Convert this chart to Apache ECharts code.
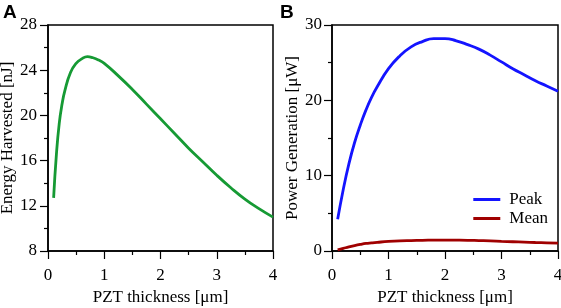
<!DOCTYPE html>
<html><head><meta charset="utf-8">
<script src="https://cdn.jsdelivr.net/npm/echarts@6/dist/echarts.min.js"></script>
<style>html,body{margin:0;padding:0;background:#fff}#c{width:561px;height:308px}</style>
</head><body><div id="c"></div>
<script>
// Panel A: Energy harvested vs PZT thickness
const thicknessA = [0.1,0.15,0.2,0.25,0.3,0.4,0.5,0.6,0.7,0.8,0.9,1.0,1.25,1.5,1.75,2.0,2.25,2.5,2.75,3.0,3.25,3.5,3.75,4.0];
const energyA    = [12.7,16.6,19.3,21.0,22.2,23.8,24.6,25.0,25.2,25.1,24.9,24.6,23.5,22.3,21.0,19.7,18.4,17.1,15.9,14.7,13.6,12.6,11.75,11.0];
// Panel B: Power generation vs PZT thickness
const thicknessB = [0.1,0.2,0.3,0.4,0.5,0.6,0.7,0.8,1.0,1.2,1.4,1.6,1.8,2.0,2.2,2.4,2.6,2.8,3.0,3.2,3.4,3.6,3.8,4.0];
const peakB      = [4.2,8.2,11.6,14.4,16.7,18.7,20.4,21.8,24.2,25.9,27.1,27.8,28.2,28.2,27.9,27.4,26.8,26.0,25.1,24.2,23.4,22.6,21.9,21.2];
const meanB      = [0.15,0.35,0.55,0.72,0.87,1.0,1.08,1.15,1.27,1.35,1.39,1.42,1.44,1.45,1.44,1.42,1.38,1.34,1.28,1.23,1.18,1.13,1.09,1.05];
const xTicks = [0,1,2,3,4];
const yTicksA = [8,12,16,20,24,28];
const yTicksB = [0,10,20,30];

const pair = (xs, ys) => xs.map((x, i) => [x, ys[i]]);
const F = 'Liberation Serif, Times New Roman, serif';
const axisBase = {
  axisLine: {show: true, onZero: false, lineStyle: {color: '#000', width: 1.5}},
  axisTick: {show: true, inside: false, length: 8, lineStyle: {color: '#000', width: 1.2}},
  minorTick: {show: true, splitNumber: 2, length: 4, lineStyle: {color: '#000', width: 1.2}},
  splitLine: {show: false},
  nameLocation: 'middle',
  nameTextStyle: {fontFamily: F, fontSize: 17, color: '#000'},
  axisLabel: {fontFamily: F, fontSize: 17, color: '#000'}
};
function xAx(grid) {
  return Object.assign({}, axisBase, {
    type: 'value', gridIndex: grid, min: xTicks[0], max: xTicks[xTicks.length-1], interval: 1,
    name: 'PZT thickness [μm]', nameGap: 38,
    axisLabel: Object.assign({}, axisBase.axisLabel, {margin: 16})
  });
}
const option = {
  animation: false,
  backgroundColor: '#fff',
  grid: [
    {left: 48, right: 288, top: 25, bottom: 57, show: true, borderColor: '#000', borderWidth: 1.5, containLabel: false, outerBoundsMode: 'none'},
    {left: 332, right: 3, top: 25, bottom: 57, show: true, borderColor: '#000', borderWidth: 1.5, containLabel: false, outerBoundsMode: 'none'}
  ],
  xAxis: [xAx(0), xAx(1)],
  yAxis: [
    Object.assign({}, axisBase, {type: 'value', gridIndex: 0, min: yTicksA[0], max: yTicksA[yTicksA.length-1], interval: 4,
      name: 'Energy Harvested [nJ]', nameGap: 24,
      axisLabel: Object.assign({}, axisBase.axisLabel, {margin: 11})}),
    Object.assign({}, axisBase, {type: 'value', gridIndex: 1, min: yTicksB[0], max: yTicksB[yTicksB.length-1], interval: 10,
      name: 'Power Generation [μW]', nameGap: 31,
      axisLabel: Object.assign({}, axisBase.axisLabel, {margin: 10})})
  ],
  legend: {
    show: true, right: 8, top: 186, orient: 'vertical', itemGap: 2,
    itemWidth: 27, itemHeight: 3, icon: 'rect',
    textStyle: {fontFamily: F, fontSize: 17, color: '#000', padding: [0, 0, 0, 4]},
    data: ['Peak', 'Mean']
  },
  series: [
    {type: 'line', xAxisIndex: 0, yAxisIndex: 0, data: pair(thicknessA, energyA), smooth: 0.5, showSymbol: false,
     lineStyle: {color: '#169a34', width: 2.8}, itemStyle: {color: '#169a34'}},
    {name: 'Peak', type: 'line', xAxisIndex: 1, yAxisIndex: 1, data: pair(thicknessB, peakB), smooth: 0.5, showSymbol: false,
     lineStyle: {color: '#1414ff', width: 2.8}, itemStyle: {color: '#1414ff'}},
    {name: 'Mean', type: 'line', xAxisIndex: 1, yAxisIndex: 1, data: pair(thicknessB, meanB), smooth: 0.5, showSymbol: false,
     lineStyle: {color: '#a00000', width: 2.8}, itemStyle: {color: '#a00000'}}
  ],
  graphic: [
    {type: 'text', left: 3, top: 3, style: {text: 'A', fontFamily: 'Liberation Sans, Arial, sans-serif', fontWeight: 'bold', fontSize: 19, fill: '#000'}},
    {type: 'text', left: 280, top: 3, style: {text: 'B', fontFamily: 'Liberation Sans, Arial, sans-serif', fontWeight: 'bold', fontSize: 19, fill: '#000'}}
  ]
};
const chart = echarts.init(document.getElementById('c'), null, {renderer: 'canvas'});
chart.setOption(option);
</script></body></html>
